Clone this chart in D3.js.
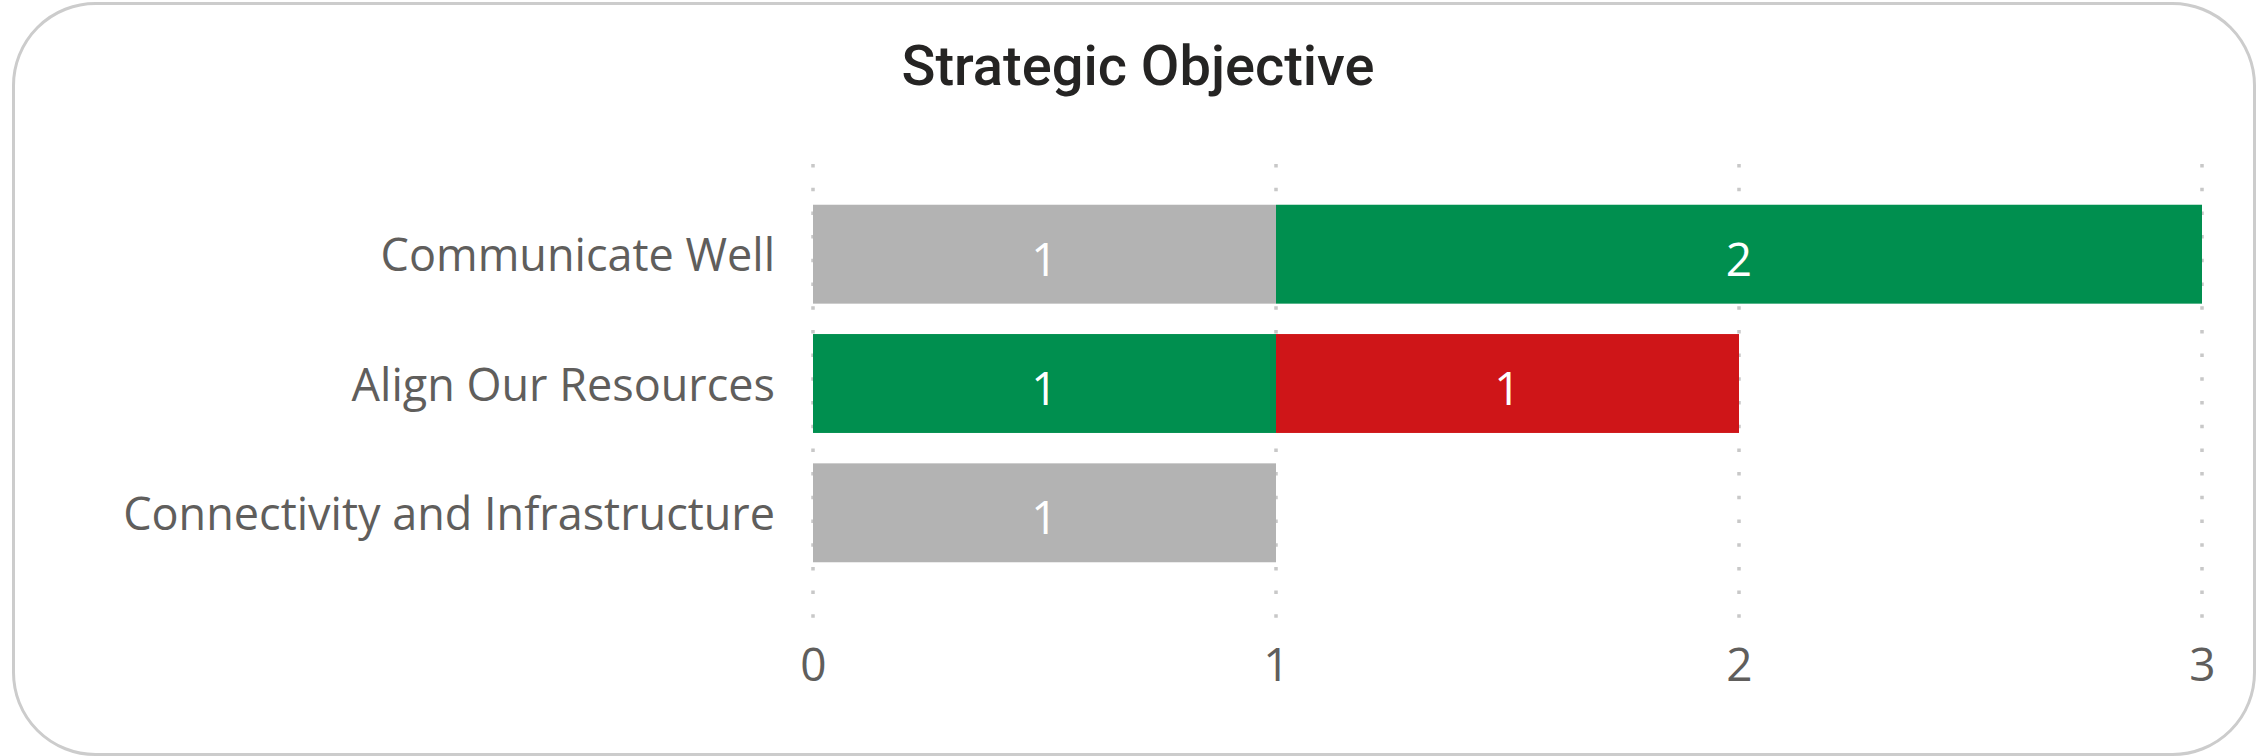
<!DOCTYPE html>
<html>
<head>
<meta charset="utf-8">
<script src="https://cdn.jsdelivr.net/npm/d3@7"></script>
<style>
    html, body { margin: 0; padding: 0; background: #fff; }
    svg { display: block; }
</style>
</head>
<body>
<svg id="chart" width="2258" height="756"></svg>
<script>
// categories top to bottom
var categories = ["Communicate Well", "Align Our Resources", "Connectivity and Infrastructure"];
// status series, stacked in this order
var seriesNames = ["Not Started", "On Track", "Off Track"];
var seriesColors = ["#b3b3b3", "#008f4f", "#cf1518"];
var notStarted = [1, 0, 1];
var onTrack = [2, 1, 0];
var offTrack = [0, 1, 0];
var xTicks = [0, 1, 2, 3];

function render_chart(svg_elem) {
    var svg = d3.select(svg_elem),
        width = +svg.attr("width"),
        height = +svg.attr("height");

    var labelFont = "'Segoe UI', 'Open Sans', sans-serif";

    // card border
    svg.append("rect")
        .attr("x", 13.5)
        .attr("y", 3.5)
        .attr("width", width - 17)
        .attr("height", height - 5)
        .attr("rx", 82)
        .attr("ry", 82)
        .style("fill", "#fff")
        .style("stroke", "#cccccc")
        .style("stroke-width", 3);

    svg.append("text")
        .attr("x", 1138)
        .attr("y", 85)
        .attr("text-anchor", "middle")
        .style("font-family", "Roboto, sans-serif")
        .style("font-weight", 500)
        .style("font-size", "56px")
        .style("fill", "#252423")
        .text("Strategic Objective");

    var rows = categories.map(function (c, i) {
        return {cat: c, "Not Started": notStarted[i], "On Track": onTrack[i], "Off Track": offTrack[i]};
    });

    var x = d3.scaleLinear().domain([0, 3]).range([813, 2202]);
    var y = d3.scaleBand().domain(categories).range([175, 592])
        .paddingInner(0.235).paddingOuter(0.23);
    var color = d3.scaleOrdinal().domain(seriesNames).range(seriesColors);

    /* dotted gridlines */
    svg.append("g")
        .attr("class", "grid")
        .selectAll("line")
        .data(xTicks)
        .enter().append("line")
        .attr("x1", function (d) { return x(d); })
        .attr("x2", function (d) { return x(d); })
        .attr("y1", 164)
        .attr("y2", 622)
        .style("stroke", "#c8c8c8")
        .style("stroke-width", 3.5)
        .style("stroke-dasharray", "3.5 20.2");

    var stacked = d3.stack().keys(seriesNames)(rows);

    var layer = svg.append("g")
        .selectAll("g")
        .data(stacked)
        .enter().append("g")
        .style("fill", function (d) { return color(d.key); });

    layer.selectAll("rect")
        .data(function (d) { return d.filter(function (p) { return p[1] > p[0]; }); })
        .enter().append("rect")
        .attr("x", function (d) { return x(d[0]); })
        .attr("y", function (d) { return y(d.data.cat); })
        .attr("width", function (d) { return x(d[1]) - x(d[0]); })
        .attr("height", y.bandwidth());

    layer.selectAll("text")
        .data(function (d) { return d.filter(function (p) { return p[1] > p[0]; }); })
        .enter().append("text")
        .attr("x", function (d) { return (x(d[0]) + x(d[1])) / 2; })
        .attr("y", function (d) { return y(d.data.cat) + y.bandwidth() / 2; })
        .attr("dy", "0.47em")
        .attr("text-anchor", "middle")
        .style("font-family", labelFont)
        .style("font-size", "46px")
        .style("fill", "#ffffff")
        .text(function (d) { return d[1] - d[0]; });

    // category axis
    var yAxis = svg.append("g")
        .attr("transform", "translate(775,0)")
        .call(d3.axisLeft(y).tickSize(0).tickPadding(0));
    yAxis.select(".domain").remove();
    yAxis.selectAll("text")
        .attr("dy", "0.38em")
        .style("font-family", labelFont)
        .style("font-size", "45px")
        .style("fill", "#605e5c");

    // value axis
    var xAxis = svg.append("g")
        .attr("transform", "translate(0,646)")
        .call(d3.axisBottom(x).tickValues(xTicks).tickFormat(d3.format("d")).tickSize(0).tickPadding(0));
    xAxis.select(".domain").remove();
    xAxis.selectAll("text")
        .attr("dy", "0.76em")
        .style("font-family", labelFont)
        .style("font-size", "46px")
        .style("fill", "#605e5c");
}

render_chart("#chart");
</script>
</body>
</html>
